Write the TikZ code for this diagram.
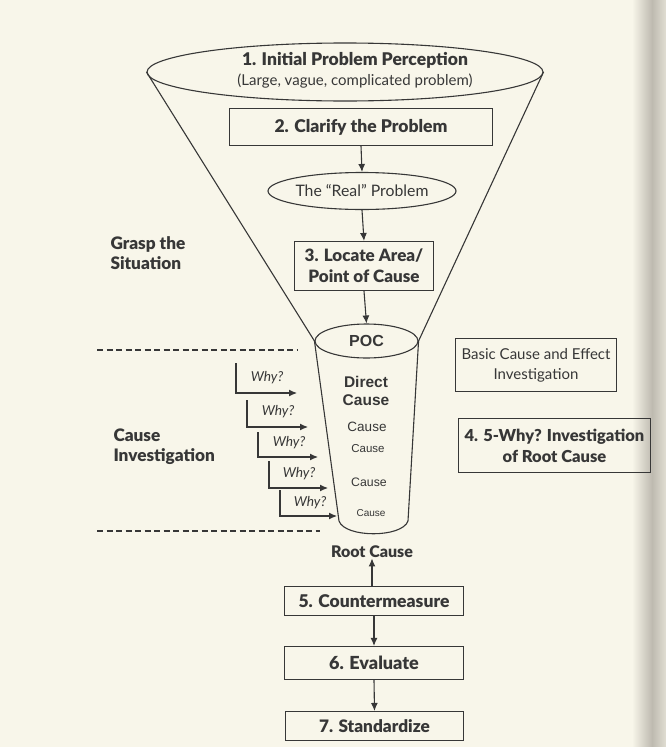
\documentclass[tikz,border=0pt]{standalone}
\usepackage{fontspec}
\setmainfont{Lato}[BoldFont={Lato Black}]
\newfontfamily\arialf{Liberation Sans}
\usetikzlibrary{arrows.meta,shapes.geometric}
\definecolor{paper}{RGB}{248,246,234}
\definecolor{ink}{RGB}{55,55,55}
\definecolor{shadow}{RGB}{190,186,176}
\begin{document}
\begin{tikzpicture}[x=1pt,y=-1pt,line width=1pt,
  box/.style={draw=ink,line width=1.1pt,rectangle,inner sep=0pt,align=center,text=ink,
    font=\bfseries\fontsize{17.5}{19}\selectfont},
  oval/.style={draw=ink,line width=1.1pt,ellipse,inner sep=0pt,text=ink},
  arr/.style={draw=ink,line width=1.1pt,-{Latex[length=8pt,width=7pt]}},
  edge/.style={draw=ink,line width=1.1pt},
  dashline/.style={draw=ink,line width=1.1pt,dash pattern=on 6pt off 3.5pt},
  whyt/.style={text=ink,font=\itshape\fontsize{13.7}{15}\selectfont,inner sep=0pt},
  cyl/.style={text=ink,inner sep=0pt},
  lab/.style={text=ink,anchor=west,align=left,inner sep=0pt,font=\bfseries\fontsize{17.2}{20}\selectfont}]
\useasboundingbox (0,0) rectangle (666,747);
\fill[paper] (0,0) rectangle (666,747);
\shade[left color=paper,right color=shadow] (632,0) rectangle (652,747);
\shade[left color=shadow,right color=paper!60!shadow] (652,0) rectangle (666,747);

% top funnel
\node[oval,minimum width=396pt,minimum height=58pt] (e1) at (345,72) {};
\node[text=ink,inner sep=0pt,font=\bfseries\fontsize{17.5}{19}\selectfont] (t1) at (355,60) {1. Initial Problem Perception};
\node[text=ink,inner sep=0pt,font=\fontsize{15}{17}\selectfont] (t1b) at (355,81) {(Large, vague, complicated problem)};

\node[box,minimum width=263pt,minimum height=37pt] (b2) at (361,127) {2. Clarify the Problem};
\node[oval,minimum width=180pt,minimum height=37pt,font=\fontsize{15.8}{17}\selectfont] (real) at (362,191) {The “Real” Problem};
\node[box,minimum width=139pt,minimum height=49pt,font=\bfseries\fontsize{17}{21}\selectfont] (b3) at (364,266) {3. Locate Area/\\Point of Cause};
\node[oval,minimum width=103pt,minimum height=34pt,font=\arialf\bfseries\fontsize{16}{18}\selectfont] (poc) at (366.5,341) {POC};

\draw[edge] (e1.west) -- (poc.west);
\draw[edge] (e1.east) -- (poc.east);
\draw[arr] (b2.south) -- (real.north);
\draw[arr] (real.south) -- (b3.north);
\draw[arr] (b3.south) -- (poc.north);

% cylinder
\coordinate (cl) at (339,521);
\coordinate (cr) at (408,521);
\draw[edge] (poc.west) -- (cl) .. controls (345,538) and (402,538) .. (cr) -- (poc.east);
\node[cyl,align=center,font=\arialf\bfseries\fontsize{15.5}{18}\selectfont] (dc) at (366,391) {Direct\\Cause};
\node[cyl,font=\arialf\fontsize{13.5}{15}\selectfont] (c1) at (367,427) {Cause};
\node[cyl,font=\arialf\fontsize{11.5}{13}\selectfont] (c2) at (368,449) {Cause};
\node[cyl,font=\arialf\fontsize{12.3}{14}\selectfont] (c3) at (369,482) {Cause};
\node[cyl,font=\arialf\fontsize{10}{12}\selectfont] (c4) at (371,513) {Cause};

% why arrows
\coordinate (w1a) at (236,363); \coordinate (w1b) at (297,393);
\coordinate (w2a) at (247,400); \coordinate (w2b) at (308,427);
\coordinate (w3a) at (258,432); \coordinate (w3b) at (318,457);
\coordinate (w4a) at (269,461); \coordinate (w4b) at (328,488);
\coordinate (w5a) at (280,490); \coordinate (w5b) at (337,516);
\draw[arr] (w1a) |- (w1b);
\draw[arr] (w2a) |- (w2b);
\draw[arr] (w3a) |- (w3b);
\draw[arr] (w4a) |- (w4b);
\draw[arr] (w5a) |- (w5b);
\node[whyt] (y1) at (267,378) {Why?};
\node[whyt] (y2) at (278,412) {Why?};
\node[whyt] (y3) at (289,443) {Why?};
\node[whyt] (y4) at (299,474) {Why?};
\node[whyt] (y5) at (310,503) {Why?};

% dashed separators
\coordinate (d1a) at (97,350); \coordinate (d1b) at (298,350);
\coordinate (d2a) at (97,531); \coordinate (d2b) at (320,531);
\draw[dashline] (d1a) -- (d1b);
\draw[dashline] (d2a) -- (d2b);

% side labels
\node[lab] (gs) at (110,253) {Grasp the\\Situation};
\node[lab] (ci) at (113,447) {Cause\\Investigation};

\node[box,minimum width=161pt,minimum height=53pt,font=\fontsize{15}{20}\selectfont] (bc) at (536,365) {Basic Cause and Effect\\Investigation};
\node[box,minimum width=192pt,minimum height=54pt,font=\bfseries\fontsize{16.5}{21}\selectfont] (b4) at (554.5,445.5) {4. 5-Why? Investigation\\of Root Cause};

% lower chain
\node[text=ink,inner sep=0pt,font=\bfseries\fontsize{16}{18}\selectfont] (rc) at (372,552) {Root Cause};
\node[box,minimum width=179pt,minimum height=29pt,font=\bfseries\fontsize{17.5}{19}\selectfont] (b5) at (374,601) {5. Countermeasure};
\node[box,minimum width=179pt,minimum height=33pt,font=\bfseries\fontsize{18}{19}\selectfont] (b6) at (374,663) {6. Evaluate};
\node[box,minimum width=178pt,minimum height=29pt,font=\bfseries\fontsize{17.2}{19}\selectfont] (b7) at (374.5,726) {7. Standardize};
\draw[arr] (rc.south |- b5.north) -- (rc.south);
\draw[arr] (b5.south) -- (b6.north);
\draw[arr] (b6.south) -- (b7.north);
\end{tikzpicture}
\end{document}
